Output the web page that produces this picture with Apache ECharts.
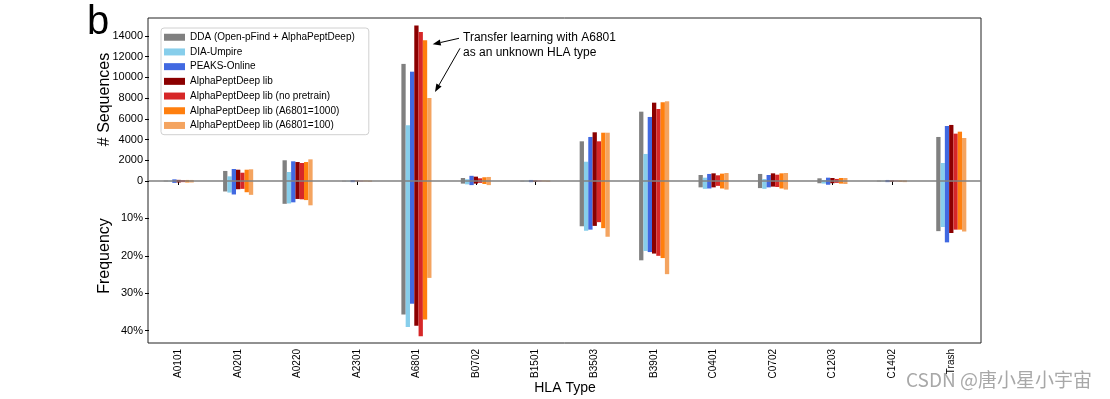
<!DOCTYPE html>
<html>
<head>
<meta charset="utf-8">
<script src="https://cdn.jsdelivr.net/npm/echarts@6/dist/echarts.min.js"></script>
<style>
html, body { margin: 0; padding: 0; background: #fff; }
#chart { width: 1110px; height: 399px; }
</style>
</head>
<body>
<div id="chart"></div>
<script>
var hlaTypes = ['A0101', 'A0201', 'A0220', 'A2301', 'A6801', 'B0702', 'B1501', 'B3503', 'B3901', 'C0401', 'C0702', 'C1203', 'C1402', 'Trash'];
var methods = ['DDA (Open-pFind + AlphaPeptDeep)', 'DIA-Umpire', 'PEAKS-Online', 'AlphaPeptDeep lib',
    'AlphaPeptDeep lib (no pretrain)', 'AlphaPeptDeep lib (A6801=1000)', 'AlphaPeptDeep lib (A6801=100)'];
var colors = ['#808080', '#87ceeb', '#4169e1', '#8b0000', '#d62728', '#ff7f0e', '#f4a460'];

// # sequences (upper half)
var seqDDA        = [30, 970, 2000, 20, 11300, 290, 20, 3830, 6690, 580, 680, 260, 30, 4250];
var seqUmpire     = [20, 450, 870, 20, 5380, 170, 20, 1860, 2610, 320, 190, 100, 20, 1740];
var seqPeaks      = [160, 1160, 1900, 90, 10550, 500, 100, 4250, 6180, 680, 580, 320, 100, 5310];
var seqLib        = [110, 1090, 1830, 40, 15000, 420, 50, 4700, 7560, 740, 740, 290, 50, 5410];
var seqNoPretrain = [90, 800, 1740, 30, 14380, 260, 40, 3830, 6950, 550, 610, 200, 40, 4570];
var seqLib1000    = [100, 1090, 1830, 40, 13580, 360, 40, 4660, 7600, 710, 740, 290, 50, 4760];
var seqLib100     = [100, 1130, 2090, 50, 8010, 390, 50, 4660, 7690, 770, 770, 290, 60, 4150];

// frequency in % (lower half)
var freqDDA        = [0.1, 2.8, 6.1, 0.1, 35.7, 0.7, 0.1, 12.1, 21.2, 1.7, 1.9, 0.6, 0.1, 13.4];
var freqUmpire     = [0.1, 3.1, 6.0, 0.1, 39.0, 0.9, 0.1, 13.3, 18.7, 2.1, 2.1, 0.7, 0.1, 12.3];
var freqPeaks      = [0.5, 3.6, 5.7, 0.3, 32.8, 1.1, 0.3, 13.0, 19.0, 2.0, 1.7, 1.0, 0.3, 16.4];
var freqLib        = [0.4, 2.2, 4.8, 0.1, 38.7, 0.7, 0.2, 12.0, 19.4, 1.7, 1.5, 0.6, 0.2, 13.9];
var freqNoPretrain = [0.3, 2.1, 4.9, 0.1, 41.5, 0.5, 0.1, 11.0, 20.0, 1.3, 1.6, 0.5, 0.1, 13.0];
var freqLib1000    = [0.4, 3.0, 5.1, 0.1, 37.0, 0.8, 0.1, 12.6, 20.6, 2.0, 2.0, 0.7, 0.2, 13.0];
var freqLib100     = [0.4, 3.7, 6.5, 0.2, 25.9, 1.1, 0.2, 14.9, 24.9, 2.3, 2.3, 0.8, 0.3, 13.5];

var seqTicks = [0, 2000, 4000, 6000, 8000, 10000, 12000, 14000];
var freqTicks = [10, 20, 30, 40];

var seqData = [seqDDA, seqUmpire, seqPeaks, seqLib, seqNoPretrain, seqLib1000, seqLib100];
var freqData = [freqDDA, freqUmpire, freqPeaks, freqLib, freqNoPretrain, freqLib1000, freqLib100];

var font = 'Liberation Sans';
var series = [];
for (var i = 0; i < methods.length; i++) {
    series.push({
        name: methods[i], type: 'bar', xAxisIndex: 0, yAxisIndex: 0,
        data: seqData[i], barWidth: 4.3, barGap: '0%',
        itemStyle: { color: colors[i] }, silent: true
    });
    series.push({
        name: methods[i], type: 'bar', xAxisIndex: 1, yAxisIndex: 1,
        data: freqData[i], barWidth: 4.3, barGap: '0%',
        itemStyle: { color: colors[i] }, silent: true
    });
}

// arrow: line plus a filled head at the tip
function arrow(x1, y1, x2, y2) {
    var a = Math.atan2(y2 - y1, x2 - x1), L = 8, W = 3;
    var bx = x2 - L * Math.cos(a), by = y2 - L * Math.sin(a);
    return [
        { type: 'line', shape: { x1: x1, y1: y1, x2: bx, y2: by }, style: { stroke: '#000', lineWidth: 1 }, z: 20 },
        { type: 'polygon', shape: { points: [[x2, y2],
            [bx + W * Math.sin(a), by - W * Math.cos(a)],
            [bx - W * Math.sin(a), by + W * Math.cos(a)]] }, style: { fill: '#000' }, z: 20 }
    ];
}

var myChart = echarts.init(document.getElementById('chart'));
var option = {
    animation: false,
    textStyle: { fontFamily: font },
    grid: [
        { left: 149, right: 129, top: 18, height: 163 },
        { left: 149, right: 129, top: 181, height: 162 },
        { left: 148, right: 129, top: 18, height: 325, show: true, borderColor: '#222', borderWidth: 1, backgroundColor: 'transparent' }
    ],
    legend: {
        data: methods, orient: 'vertical', left: 161, top: 28,
        itemWidth: 21, itemHeight: 7, itemGap: 4.2, icon: 'rect',
        selectedMode: false,
        textStyle: { fontSize: 10, color: '#000', fontFamily: font, lineHeight: 10.5 },
        backgroundColor: '#fff', borderColor: '#d0d0d0', borderWidth: 1, borderRadius: 3,
        padding: [4, 14, 4, 3]
    },
    xAxis: [
        { type: 'category', gridIndex: 0, data: hlaTypes, z: 10,
          axisLine: { show: true, lineStyle: { color: '#808080', width: 1.5, cap: 'butt' } },
          axisTick: { show: false }, axisLabel: { show: false } },
        { type: 'category', gridIndex: 1, data: hlaTypes,
          axisLine: { show: false },
          axisTick: { show: true, alignWithLabel: true, length: 4, lineStyle: { color: '#000' } },
          axisLabel: { rotate: 90, fontSize: 10, color: '#000', margin: 6 },
          name: 'HLA Type', nameLocation: 'middle', nameGap: 38, nameMoveOverlap: false,
          nameTextStyle: { fontSize: 14, color: '#000' } }
    ],
    yAxis: [
        { type: 'value', gridIndex: 0, min: 0, max: 15730,
          splitLine: { show: false }, axisLine: { show: false },
          axisTick: { show: true, length: 4, customValues: seqTicks, lineStyle: { color: '#000' } },
          axisLabel: { customValues: seqTicks, fontSize: 11, color: '#000', margin: 6,
                       formatter: function (v) { return String(v); } },
          name: '# Sequences', nameLocation: 'middle', nameGap: 36, nameMoveOverlap: false,
          nameTextStyle: { fontSize: 16, color: '#000' } },
        { type: 'value', gridIndex: 1, min: 0, max: 43.3, inverse: true,
          splitLine: { show: false }, axisLine: { show: false },
          axisTick: { show: true, length: 4, customValues: freqTicks, lineStyle: { color: '#000' } },
          axisLabel: { customValues: freqTicks, fontSize: 11, color: '#000', margin: 6,
                       formatter: function (v) { return v + '%'; } },
          name: 'Frequency', nameLocation: 'middle', nameGap: 36, nameMoveOverlap: false,
          nameTextStyle: { fontSize: 16, color: '#000', padding: [0, 0, 0, 12] } }
    ],
    graphic: [
        { type: 'text', left: 87, top: 3, style: { text: 'b', fontSize: 40, fontFamily: font, fill: '#000' } },
        { type: 'text', left: 463, top: 31, style: { text: 'Transfer learning with A6801\nas an unknown HLA type',
          fontSize: 12, lineHeight: 14.3, fontFamily: font, fill: '#000' }, z: 20 },
        { type: 'text', left: 906, top: 370, style: { text: 'CSDN @唐小星小宇宙', fontSize: 19,
          fontFamily: 'Noto Sans CJK SC', fill: '#a8a8a8' }, z: 30 }
    ].concat(arrow(459, 38.3, 432.7, 44.3)).concat(arrow(460, 48.3, 435, 92)),
    series: series
};

if (option && typeof option === 'object') {
    myChart.setOption(option, true);
}
</script>
</body>
</html>
